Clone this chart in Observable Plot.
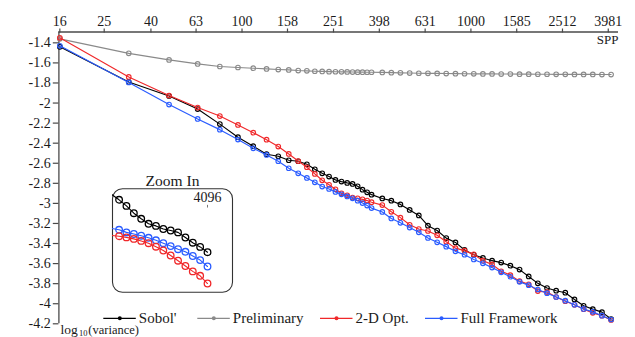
<!DOCTYPE html>
<html><head><meta charset="utf-8">
<script src="https://cdn.jsdelivr.net/npm/d3@7"></script>
<script src="https://cdn.jsdelivr.net/npm/@observablehq/plot@0.6"></script>
<style>
html,body{margin:0;padding:0;background:#fff;}
#wrap{position:relative;width:635px;height:337px;font-family:"Liberation Serif","Times New Roman",serif;}
#wrap svg{overflow:visible;}
#inset{position:absolute;left:110.7px;top:167px;}
</style></head><body><div id="wrap"><div id="main"></div><div id="inset"></div></div>
<script>
// ---------- data ----------
const spp = [16,32,48,64,80,96,112,128,144,160,176,192,208,224,240,256,272,288,304,320,336,352,368,
  410,449,492,540,592,649,712,780,856,938,1029,1128,1237,1356,1487,1631,1788,1960,2150,2357,2584,2834,3107,3407,3736,4096];
const sobol = [-1.44,-1.79,-1.93,-2.06,-2.21,-2.34,-2.43,-2.51,-2.53,-2.57,-2.58,-2.61,-2.66,-2.70,-2.733,-2.766,-2.783,-2.796,-2.806,-2.83,-2.863,-2.89,-2.913,
  -2.951,-2.973,-3.01,-3.065,-3.12,-3.222,-3.27,-3.346,-3.389,-3.464,-3.512,-3.544,-3.571,-3.59,-3.621,-3.66,-3.728,-3.797,-3.843,-3.87,-3.89,-3.957,-4.02,-4.054,-4.084,-4.152];
const preliminary = [-1.36,-1.505,-1.57,-1.61,-1.636,-1.646,-1.653,-1.66,-1.666,-1.67,-1.676,-1.679,-1.683,-1.685,-1.687,-1.688,-1.689,-1.69,-1.691,-1.692,-1.692,-1.693,-1.693,
  -1.695,-1.697,-1.699,-1.701,-1.703,-1.704,-1.705,-1.706,-1.707,-1.708,-1.709,-1.71,-1.71,-1.711,-1.711,-1.712,-1.712,-1.713,-1.713,-1.714,-1.714,-1.715,-1.715,-1.715,-1.716,-1.716];
const opt2d = [-1.35,-1.74,-1.925,-2.045,-2.13,-2.218,-2.295,-2.365,-2.434,-2.507,-2.578,-2.64,-2.706,-2.77,-2.815,-2.86,-2.9,-2.92,-2.942,-2.95,-2.96,-2.972,-2.988,
  -3.017,-3.084,-3.142,-3.213,-3.255,-3.275,-3.318,-3.383,-3.446,-3.471,-3.508,-3.571,-3.608,-3.677,-3.715,-3.775,-3.807,-3.874,-3.884,-3.933,-3.975,-4.011,-4.054,-4.091,-4.12,-4.162];
const fullFramework = [-1.43,-1.795,-2.015,-2.158,-2.265,-2.364,-2.451,-2.517,-2.58,-2.65,-2.70,-2.746,-2.79,-2.832,-2.856,-2.886,-2.91,-2.931,-2.95,-2.973,-2.997,-3.022,-3.047,
  -3.085,-3.15,-3.194,-3.241,-3.288,-3.344,-3.388,-3.431,-3.478,-3.512,-3.559,-3.597,-3.64,-3.687,-3.731,-3.782,-3.815,-3.858,-3.895,-3.933,-3.97,-4.01,-4.052,-4.081,-4.119,-4.157];

const seriesNames = ["Sobol'","Preliminary","2-D Opt.","Full Framework"];
const xTickLabels = [16,25,40,63,100,158,251,398,631,1000,1585,2512,3981];
const yTickValues = [-1.4,-1.6,-1.8,-2,-2.2,-2.4,-2.6,-2.8,-3,-3.2,-3.4,-3.6,-3.8,-4,-4.2];

// inset ("Zoom In") data: the final samples, magnified
const insetSpp = [1237,1356,1487,1631,1788,1960,2150,2357,2584,2834,3107,3407,3736,4096];
const insetSobol = [-4.0138,-4.0266,-4.0413,-4.059,-4.0725,-4.0846,-4.0897,-4.0972,-4.1008,-4.1054,-4.1177,-4.1303,-4.1405,-4.1533];
const insetOpt2d = [-4.1129,-4.1146,-4.1175,-4.1211,-4.126,-4.1315,-4.14,-4.1492,-4.1613,-4.1738,-4.1867,-4.1997,-4.2103,-4.229];
const insetFull = [-4.096,-4.0991,-4.1054,-4.1093,-4.1134,-4.1185,-4.1245,-4.1315,-4.1385,-4.146,-4.1523,-4.1625,-4.1724,-4.1879];
const insetLabel = 4096;

// ---------- styles ----------
const colors = {"Sobol'":"#000000","Preliminary":"#8a8a8a","2-D Opt.":"#f0282a","Full Framework":"#2a5cff"};
const axisColor = "#4a4a4a";
const fontFam = "Liberation Serif, Times New Roman, serif";
const xMin = 15.85, xMax = 4413, yMin = -4.2, yMax = -1.292;

function seriesMarks(xs, vals, color, r, sw) {
  const d = xs.map((s, i) => ({s, v: vals[i]}));
  return [
    Plot.line(d, {x: "s", y: "v", stroke: color, strokeWidth: 1.15}),
    Plot.dot(d, {x: "s", y: "v", r: r, stroke: color, strokeWidth: sw, fill: "none"})
  ];
}

const main = Plot.plot({
  width: 635, height: 337,
  marginLeft: 58.4, marginRight: 17, marginTop: 31.5, marginBottom: 13.7,
  style: {fontFamily: fontFam, fontSize: "14px", color: "#1a1a1a", background: "transparent", overflow: "visible"},
  x: {type: "log", domain: [xMin, xMax]},
  y: {domain: [yMin, yMax]},
  marks: [
    Plot.ruleY([yMax], {x1: xMin, x2: xMax, stroke: axisColor, strokeWidth: 1.3}),
    Plot.ruleX([xMin], {y1: yMin, y2: yMax, stroke: axisColor, strokeWidth: 1.3}),
    Plot.axisX({anchor: "top", ticks: xTickLabels, text: null, tickSize: 4, label: null, stroke: axisColor, strokeWidth: 1.2}),
    Plot.text(xTickLabels, {x: d => d, frameAnchor: "top", lineAnchor: "bottom", dy: -5.6, text: d => String(d), fontSize: 14}),
    Plot.axisY({anchor: "left", ticks: yTickValues, tickFormat: d => String(+d.toFixed(1)), tickSize: 5.6, tickPadding: 2.6, label: null, stroke: axisColor, strokeWidth: 1.2}),
    Plot.text(["SPP"], {frameAnchor: "top-right", textAnchor: "end", lineAnchor: "bottom", dy: 11.8, fontSize: 13}),
    ...seriesMarks(spp, preliminary, colors["Preliminary"], 2.3, 1.1),
    ...seriesMarks(spp, sobol, colors["Sobol'"], 2.3, 1.1),
    ...seriesMarks(spp, opt2d, colors["2-D Opt."], 2.3, 1.1),
    ...seriesMarks(spp, fullFramework, colors["Full Framework"], 2.3, 1.1),
    Plot.text(["log"], {frameAnchor: "bottom-left", textAnchor: "start", lineAnchor: "bottom", dx: 1.6, dy: 9.8, fontSize: 13.5}),
    Plot.text(["10"], {frameAnchor: "bottom-left", textAnchor: "start", lineAnchor: "bottom", dx: 20.2, dy: 12.6, fontSize: 8.5}),
    Plot.text(["(variance)"], {frameAnchor: "bottom-left", textAnchor: "start", lineAnchor: "bottom", dx: 29.4, dy: 9.8, fontSize: 12.5})
  ]
});
document.getElementById("main").appendChild(main);

// legend (inside the plot area, along the bottom)
const legendItems = [
  {name: "Sobol'", x: 103.3},
  {name: "Preliminary", x: 197.3},
  {name: "2-D Opt.", x: 320},
  {name: "Full Framework", x: 425}
];
const lg = d3.select(main).append("g")
  .attr("font-family", fontFam).attr("font-size", 15).attr("text-anchor", "start");
legendItems.forEach(it => {
  const c = colors[it.name];
  lg.append("line").attr("x1", it.x).attr("x2", it.x + 32.5).attr("y1", 318.3).attr("y2", 318.3).attr("stroke", c).attr("stroke-width", 1.3);
  lg.append("circle").attr("cx", it.x + 16.5).attr("cy", 318.3).attr("r", 2).attr("fill", c);
  lg.append("text").attr("x", it.x + 35.5).attr("y", 323.3).attr("text-anchor", "start").attr("fill", "#1a1a1a").text(it.name);
});

// inset
const inset = Plot.plot({
  width: 122, height: 126,
  marginLeft: 1, marginRight: 1, marginTop: 21.3, marginBottom: 1.3,
  style: {fontFamily: fontFam, fontSize: "14px", color: "#1a1a1a", background: "transparent", overflow: "visible"},
  x: {type: "log", domain: [1249, 5598], axis: null},
  y: {domain: [-4.25, -4.0], axis: null},
  clip: true,
  marks: [
    Plot.frame({rx: 10, ry: 10, stroke: "#333", strokeWidth: 1.1, fill: "white"}),
    Plot.line(insetSpp.map((s, i) => ({s, v: insetSobol[i]})), {x: "s", y: "v", stroke: colors["Sobol'"], strokeWidth: 1.1}),
    Plot.line(insetSpp.map((s, i) => ({s, v: insetFull[i]})), {x: "s", y: "v", stroke: colors["Full Framework"], strokeWidth: 1.1}),
    Plot.line(insetSpp.map((s, i) => ({s, v: insetOpt2d[i]})), {x: "s", y: "v", stroke: colors["2-D Opt."], strokeWidth: 1.1}),
    Plot.dot(insetSpp.slice(1).map((s, i) => ({s, v: insetSobol[i + 1]})), {x: "s", y: "v", r: 3.3, stroke: colors["Sobol'"], strokeWidth: 1.3, fill: "none"}),
    Plot.dot(insetSpp.slice(1).map((s, i) => ({s, v: insetFull[i + 1]})), {x: "s", y: "v", r: 3.3, stroke: colors["Full Framework"], strokeWidth: 1.3, fill: "none"}),
    Plot.dot(insetSpp.slice(1).map((s, i) => ({s, v: insetOpt2d[i + 1]})), {x: "s", y: "v", r: 3.3, stroke: colors["2-D Opt."], strokeWidth: 1.3, fill: "none"}),
    Plot.text([insetLabel], {x: d => d, frameAnchor: "top", lineAnchor: "bottom", dy: 13.2, text: d => String(d), fontSize: 14, clip: false}),
    Plot.ruleX([insetLabel], {y1: -4.040, y2: -4.0465, stroke: "#777", strokeWidth: 1}),
    Plot.text(["Zoom In"], {frameAnchor: "top", lineAnchor: "bottom", dy: -3.3, fontSize: 15.5, clip: false})
  ]
});
document.getElementById("inset").appendChild(inset);
</script>
</body></html>
